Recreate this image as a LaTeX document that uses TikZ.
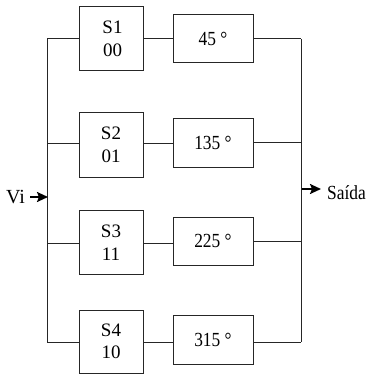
\documentclass[tikz,border=0pt]{standalone}
\usepackage{fontspec}
\setmainfont{Liberation Serif}
\newfontfamily\narrowfont{Liberation Serif}[FakeStretch=0.87]
\usetikzlibrary{arrows.meta}
\begin{document}
\begin{tikzpicture}[x=1pt,y=-1pt,
  wire/.style={line width=1pt,black!85},
  sbox/.style={draw=black!85,line width=1pt,minimum width=64pt,minimum height=64pt,inner sep=0pt,align=center,font=\fontsize{19}{22.5}\selectfont},
  pbox/.style={draw=black!85,line width=1pt,minimum width=80pt,minimum height=48pt,inner sep=0pt,font=\narrowfont\fontsize{20}{22}\selectfont},
  sig/.style={line width=2pt,-{Stealth[length=11pt,width=10pt,inset=2pt]}},
  lbl/.style={inner sep=0pt,anchor=base west}]
\useasboundingbox (0,0) rectangle (365,374);
% switches
\node[sbox] (s1) at (111,39) {\hspace*{3pt}S1\\\hspace*{3pt}00};
\node[sbox] (s2) at (111,145) {S2\\01};
\node[sbox] (s3) at (111,242.5) {S3\\11};
\node[sbox,minimum height=63pt] (s4) at (111,341.5) {S4\\10};
% phase shifters
\node[pbox] (p1) at (213,39) {45 °};
\node[pbox] (p2) at (213,143) {135 °};
\node[pbox] (p3) at (213,241) {225 °};
\node[pbox,minimum height=49pt] (p4) at (213,339.5) {315 °};
% bus coordinates
\coordinate (l1) at (47,39);
\coordinate (l2) at (47,144);
\coordinate (l3) at (47,243);
\coordinate (l4) at (47,342);
\coordinate (r1) at (301,39);
\coordinate (r2) at (301,143);
\coordinate (r3) at (301,241);
\coordinate (r4) at (301,342);
\coordinate (vstart) at (30,197);
\coordinate (vin) at (48,197);
\coordinate (vout) at (302,189);
\coordinate (otip) at (321,189);
% buses
\draw[wire] (l1) -- (l4);
\draw[wire] (r1) -- (r4);
% branches
\draw[wire] (l1) -- (l1 -| s1.west);
\draw[wire] (s1.east |- l1) -- (p1.west);
\draw[wire] (p1.east) -- (r1);
\draw[wire] (l2) -- (l2 -| s2.west);
\draw[wire] (s2.east |- l2) -- (p2.west |- l2);
\draw[wire] (p2.east) -- (r2);
\draw[wire] (l3) -- (l3 -| s3.west);
\draw[wire] (s3.east |- l3) -- (p3.west |- l3);
\draw[wire] (p3.east) -- (r3);
\draw[wire] (l4) -- (l4 -| s4.west);
\draw[wire] (s4.east |- l4) -- (p4.west |- l4);
\draw[wire] (p4.east |- r4) -- (r4);
% input / output
\node[lbl,font=\fontsize{20}{22}\selectfont] (vi) at (6,203) {Vi};
\draw[sig] (vstart) -- (vin);
\node[lbl,font=\narrowfont\fontsize{20}{22}\selectfont] (out) at (327,199.5) {Saída};
\draw[sig] (vout) -- (otip);
\end{tikzpicture}
\end{document}
